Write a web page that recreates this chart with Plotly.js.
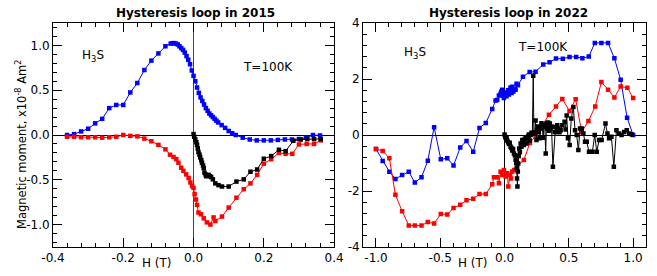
<!DOCTYPE html>
<html>
<head>
<meta charset="utf-8">
<script src="https://cdn.plot.ly/plotly-3.0.1.min.js"></script>
<style>html,body{margin:0;padding:0;background:#fff;}#chart{width:657px;height:276px;}</style>
</head>
<body>
<div id="chart"></div>
<script>
// ---- 2015 loop ----
const blue2015X = [-0.36,-0.34,-0.32,-0.30,-0.28,-0.26,-0.24,-0.22,-0.20,-0.18,-0.16,-0.14,-0.12,-0.10,-0.08,-0.065,-0.06,-0.055,-0.05,-0.045,-0.04,-0.035,-0.03,-0.025,-0.02,-0.015,-0.01,-0.005,0.0,0.005,0.01,0.015,0.02,0.025,0.03,0.035,0.04,0.045,0.05,0.055,0.06,0.065,0.07,0.08,0.09,0.10,0.11,0.12,0.14,0.16,0.18,0.20,0.22,0.24,0.26,0.28,0.30,0.32,0.34,0.36];
const blue2015Y = [0.0,0.01,0.04,0.07,0.13,0.18,0.30,0.335,0.335,0.475,0.58,0.725,0.83,0.91,0.99,1.02,1.025,1.025,1.02,1.01,0.99,0.97,0.95,0.92,0.88,0.84,0.79,0.72,0.66,0.60,0.53,0.47,0.42,0.38,0.34,0.30,0.27,0.24,0.22,0.20,0.18,0.16,0.14,0.11,0.08,0.045,0.02,0.0,-0.03,-0.05,-0.06,-0.06,-0.06,-0.055,-0.05,-0.05,-0.045,-0.03,0.0,-0.005];

const red2015X = [-0.36,-0.34,-0.32,-0.30,-0.28,-0.26,-0.24,-0.22,-0.20,-0.18,-0.16,-0.14,-0.12,-0.10,-0.08,-0.067,-0.057,-0.049,-0.043,-0.035,-0.029,-0.021,-0.014,-0.009,-0.004,0.0,0.003,0.007,0.01,0.014,0.021,0.029,0.038,0.048,0.057,0.062,0.081,0.10,0.122,0.143,0.162,0.181,0.20,0.221,0.243,0.262,0.281,0.30,0.322,0.343,0.362];
const red2015Y = [-0.02,-0.02,-0.025,-0.025,-0.025,-0.03,-0.025,-0.02,0.0,-0.01,-0.015,-0.04,-0.07,-0.11,-0.16,-0.22,-0.245,-0.27,-0.31,-0.365,-0.40,-0.44,-0.48,-0.53,-0.57,-0.59,-0.66,-0.72,-0.78,-0.865,-0.885,-0.93,-0.975,-1.0,-0.92,-0.96,-0.91,-0.81,-0.70,-0.605,-0.54,-0.445,-0.32,-0.27,-0.20,-0.21,-0.21,-0.105,-0.10,-0.10,-0.06];

const black2015X = [0.0,0.002,0.005,0.008,0.01,0.012,0.014,0.017,0.019,0.022,0.024,0.027,0.029,0.031,0.034,0.036,0.04,0.043,0.047,0.05,0.055,0.062,0.071,0.081,0.10,0.122,0.143,0.162,0.181,0.20,0.221,0.243,0.262,0.284,0.305,0.324,0.343,0.362];
const black2015Y = [0.01,-0.02,-0.05,-0.08,-0.11,-0.15,-0.19,-0.22,-0.25,-0.28,-0.31,-0.34,-0.37,-0.42,-0.44,-0.46,-0.45,-0.445,-0.46,-0.47,-0.495,-0.54,-0.56,-0.575,-0.575,-0.52,-0.495,-0.41,-0.385,-0.265,-0.235,-0.165,-0.18,-0.065,-0.05,-0.045,-0.045,-0.045];

// ---- 2022 loop ----
const blue2022X = [-1.0,-0.948,-0.896,-0.849,-0.797,-0.745,-0.698,-0.646,-0.597,-0.548,-0.496,-0.446,-0.397,-0.345,-0.296,-0.244,-0.195,-0.146,-0.096,-0.07,-0.057,-0.044,-0.031,-0.025,-0.018,-0.01,-0.005,0.0,0.008,0.015,0.021,0.028,0.034,0.042,0.047,0.055,0.06,0.068,0.075,0.086,0.093,0.104,0.143,0.195,0.241,0.301,0.35,0.40,0.453,0.505,0.557,0.605,0.655,0.702,0.753,0.805,0.854,0.903,0.953,1.0];
const blue2022Y = [-0.5,-0.93,-1.31,-1.57,-1.43,-1.31,-1.70,-1.51,-0.92,0.28,-0.87,-0.83,-1.09,-0.45,-0.21,-0.60,0.25,0.43,0.93,1.23,1.25,1.41,1.47,1.55,1.62,1.40,1.32,1.48,1.45,1.38,1.52,1.60,1.45,1.62,1.70,1.50,1.72,1.55,1.65,1.62,1.83,1.78,2.08,2.25,2.26,2.52,2.60,2.73,2.72,2.79,2.79,2.74,2.80,3.29,3.29,3.29,2.74,1.97,0.62,0.0];

const red2022X = [-1.0,-0.948,-0.896,-0.849,-0.797,-0.745,-0.698,-0.646,-0.597,-0.548,-0.496,-0.446,-0.397,-0.345,-0.296,-0.244,-0.195,-0.146,-0.096,-0.083,-0.057,-0.044,-0.031,-0.018,-0.005,0.008,0.021,0.029,0.042,0.05,0.06,0.075,0.099,0.15,0.197,0.241,0.294,0.345,0.40,0.449,0.505,0.553,0.600,0.652,0.705,0.753,0.805,0.854,0.903,0.955,1.0];
const red2022Y = [-0.5,-0.57,-0.83,-2.13,-2.72,-3.23,-3.23,-3.23,-3.11,-3.16,-2.82,-2.84,-2.61,-2.49,-2.33,-2.28,-2.11,-2.11,-1.76,-1.51,-1.51,-1.72,-1.31,-1.43,-1.25,-1.48,-1.37,-1.84,-1.43,-1.55,-1.30,-1.25,-1.13,-0.89,-0.29,-0.03,0.35,0.72,1.02,1.29,0.86,1.28,0.10,0.50,1.02,1.89,1.62,1.34,1.73,1.69,1.32];

const black2022X = [0.000,0.005,0.010,0.016,0.021,0.028,0.034,0.040,0.047,0.053,0.060,0.066,0.073,0.080,0.086,0.091,0.094,0.097,0.100,0.103,0.106,0.110,0.114,0.119,0.125,0.131,0.138,0.144,0.150,0.157,0.164,0.170,0.177,0.184,0.190,0.196,0.202,0.209,0.216,0.223,0.228,0.234,0.241,0.248,0.255,0.261,0.267,0.274,0.280,0.287,0.294,0.300,0.306,0.313,0.320,0.326,0.332,0.338,0.345,0.352,0.358,0.365,0.376,0.389,0.396,0.402,0.410,0.418,0.427,0.436,0.449,0.467,0.475,0.483,0.493,0.506,0.519,0.535,0.548,0.561,0.574,0.587,0.600,0.613,0.626,0.639,0.657,0.683,0.701,0.717,0.735,0.755,0.785,0.800,0.813,0.831,0.850,0.870,0.890,0.910,0.930,0.950,0.970,0.990];
const black2022Y = [0.02,-0.06,-0.12,-0.10,-0.20,-0.26,-0.32,-0.28,-0.42,-0.46,-0.55,-0.50,-0.66,-0.72,-0.88,-1.00,-1.18,-1.55,-1.84,-1.30,-1.02,-0.75,-0.48,-0.62,-0.30,-0.42,-0.18,-0.26,-0.36,-0.14,-0.10,-0.30,-0.12,-0.04,0.02,-0.20,0.00,0.08,0.05,2.12,0.10,0.05,0.52,-0.18,0.17,0.30,0.11,-0.12,0.23,0.42,0.29,-0.10,0.35,0.30,-0.66,0.41,0.23,0.45,0.15,0.41,0.23,0.30,-1.13,0.11,0.29,0.11,0.35,0.23,0.10,0.17,0.35,0.47,0.20,0.70,-0.12,-0.36,0.59,1.00,0.17,0.00,-0.54,0.23,0.23,0.05,-0.24,-0.24,-0.60,-0.60,0.00,-0.60,-0.18,-0.18,0.41,0.05,-0.12,-0.06,-1.13,0.17,0.05,0.00,0.11,0.17,0.05,0.02];

// ---- tick labels ----
const x1TickVals = [-0.4,-0.2,0.0,0.2,0.4];
const x1TickText = ["-0.4","-0.2","0.0","0.2","0.4"];
const y1TickVals = [-1.0,-0.5,0.0,0.5,1.0];
const y1TickText = ["-1.0","-0.5","0.0","0.5","1.0"];
const x2TickVals = [-1.0,-0.5,0.0,0.5,1.0];
const x2TickText = ["-1.0","-0.5","0.0","0.5","1.0"];
const y2TickVals = [-4,-2,0,2,4];
const y2TickText = ["-4","-2","0","2","4"];

const titles = ["Hysteresis loop in 2015","Hysteresis loop in 2022"];
const yTitle = "Magnetic moment, x10<sup>-8</sup> Am<sup>2</sup>";
const xTitle = "H (T)";
const sampleLabel = "H<sub>3</sub>S";
const tempLabel = "T=100K";

function tr(x, y, color, xa, ya) {
  return {x: x, y: y, xaxis: xa, yaxis: ya, type: 'scatter', mode: 'lines+markers',
    line: {color: color, width: 1},
    marker: {color: color, size: 4.5, symbol: 'square'},
    hoverinfo: 'skip'};
}

const data = [
  tr(blue2015X, blue2015Y, '#0000ff', 'x', 'y'),
  tr(red2015X, red2015Y, '#ff0000', 'x', 'y'),
  tr(black2015X, black2015Y, '#000000', 'x', 'y'),
  tr(blue2022X, blue2022Y, '#0000ff', 'x2', 'y2'),
  tr(red2022X, red2022Y, '#ff0000', 'x2', 'y2'),
  tr(black2022X, black2022Y, '#000000', 'x2', 'y2')
];

function ax(extra) {
  return Object.assign({
    ticks: 'inside', ticklen: 9, tickwidth: 1, tickcolor: '#000',
    showline: true, linecolor: '#000', linewidth: 1, mirror: 'ticks',
    showgrid: false, zeroline: true, zerolinecolor: '#000', zerolinewidth: 1,
    tickfont: {family: 'DejaVu Sans', size: 12, color: '#000'},
    ticklabeloverflow: 'allow',
    fixedrange: true, tickmode: 'array'
  }, extra);
}

const annFont = {family: 'DejaVu Sans', size: 12, color: '#000'};
const layout = {
  width: 657, height: 276,
  margin: {l: 53, r: 11, t: 23, b: 29, pad: 0},
  paper_bgcolor: '#fff', plot_bgcolor: '#fff',
  showlegend: false,
  font: {family: 'DejaVu Sans', size: 12, color: '#000'},
  xaxis: ax({domain: [0, 0.474], range: [-0.4, 0.4], tickvals: x1TickVals, ticktext: x1TickText,
    minor: {dtick: 0.04, tick0: 0, ticklen: 4, ticks: 'inside', tickcolor: '#000', showgrid: false},
    zerolinecolor: '#444', zerolinewidth: 1.5}),
  yaxis: ax({domain: [0, 1], range: [-1.25, 1.25], tickvals: y1TickVals, ticktext: y1TickText,
    minor: {dtick: 0.1, tick0: 0, ticklen: 4, ticks: 'inside', tickcolor: '#000', showgrid: false}}),
  xaxis2: ax({domain: [0.523, 1], anchor: 'y2', range: [-1.1, 1.1], tickvals: x2TickVals, ticktext: x2TickText,
    minor: {dtick: 0.1, tick0: 0, ticklen: 4, ticks: 'inside', tickcolor: '#000', showgrid: false}}),
  yaxis2: ax({domain: [0, 1], anchor: 'x2', range: [-4, 4], tickvals: y2TickVals, ticktext: y2TickText,
    minor: {dtick: 0.4, tick0: 0, ticklen: 4, ticks: 'inside', tickcolor: '#000', showgrid: false}}),
  annotations: [
    {text: '<b>' + titles[0] + '</b>', xref: 'x', yref: 'paper', x: 0.005, y: 1.045, xanchor: 'center', yanchor: 'middle', showarrow: false, font: {family: 'DejaVu Sans', size: 12, color: '#000'}},
    {text: '<b>' + titles[1] + '</b>', xref: 'x2', yref: 'paper', x: 0.03, y: 1.045, xanchor: 'center', yanchor: 'middle', showarrow: false, font: {family: 'DejaVu Sans', size: 12, color: '#000'}},
    {text: yTitle, xref: 'paper', yref: 'paper', x: -0.0523, y: 0.46, xanchor: 'center', yanchor: 'middle', textangle: -90, showarrow: false, font: {family: 'DejaVu Sans', size: 11.5, color: '#000'}},
    {text: xTitle, xref: 'x', yref: 'paper', x: -0.104, y: -0.07, xanchor: 'center', yanchor: 'middle', showarrow: false, font: annFont},
    {text: xTitle, xref: 'x2', yref: 'paper', x: -0.249, y: -0.07, xanchor: 'center', yanchor: 'middle', showarrow: false, font: annFont},
    {text: sampleLabel, xref: 'x', yref: 'y', x: -0.285, y: 0.88, xanchor: 'center', yanchor: 'middle', showarrow: false, font: annFont},
    {text: sampleLabel, xref: 'x2', yref: 'y2', x: -0.70, y: 2.92, xanchor: 'center', yanchor: 'middle', showarrow: false, font: annFont},
    {text: tempLabel, xref: 'x', yref: 'y', x: 0.213, y: 0.76, xanchor: 'center', yanchor: 'middle', showarrow: false, font: annFont},
    {text: tempLabel, xref: 'x2', yref: 'y2', x: 0.296, y: 3.14, xanchor: 'center', yanchor: 'middle', showarrow: false, font: annFont}
  ]
};

Plotly.newPlot('chart', data, layout, {displayModeBar: false, staticPlot: true});
</script>
</body>
</html>
